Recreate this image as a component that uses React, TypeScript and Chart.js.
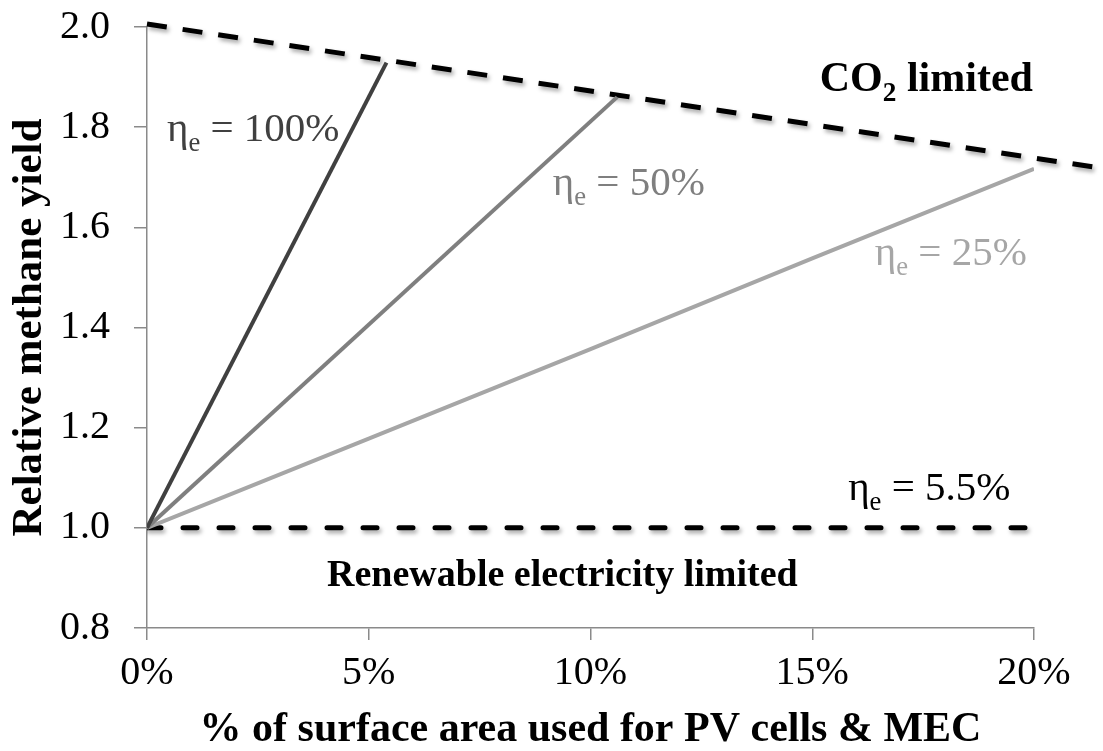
import { useEffect, useRef } from "react";
import { Chart, registerables } from "chart.js";

Chart.register(...registerables);

// ---- data ----
const xTicks = [0, 5, 10, 15, 20];
const yTicks = [0.8, 1.0, 1.2, 1.4, 1.6, 1.8, 2.0];

const eta100X = [0, 5.4];
const eta100Y = [1.0, 1.929];

const eta50X = [0, 10.6];
const eta50Y = [1.0, 1.86];

const eta25X = [0, 5, 10, 15, 20];
const eta25Y = [1.0, 1.178, 1.357, 1.538, 1.717];

const eta55X = [0, 20];
const eta55Y = [1.0, 1.0];

const co2X = [0, 21.6];
const co2Y = [2.006, 1.717];

const FAMILY = "'Liberation Serif', 'Times New Roman', serif";
const AXIS_GREY = "#8a8a8a";

const pts = (xs: number[], ys: number[]) => xs.map((x, i) => ({ x, y: ys[i] }));

type Part = { t: string; sub?: boolean };
type Anno = { parts: Part[]; x: number; y: number; color: string; bold: boolean; size: number };

const annotations: Anno[] = [
  { parts: [{ t: "η" }, { t: "e", sub: true }, { t: " = 100%" }], x: 0.45, y: 1.772, color: "#404040", bold: false, size: 41 },
  { parts: [{ t: "η" }, { t: "e", sub: true }, { t: " = 50%" }], x: 9.15, y: 1.664, color: "#7f7f7f", bold: false, size: 41 },
  { parts: [{ t: "η" }, { t: "e", sub: true }, { t: " = 25%" }], x: 16.41, y: 1.525, color: "#a6a6a6", bold: false, size: 41 },
  { parts: [{ t: "η" }, { t: "e", sub: true }, { t: " = 5.5%" }], x: 15.81, y: 1.056, color: "#000000", bold: false, size: 41 },
  { parts: [{ t: "CO" }, { t: "2", sub: true }, { t: " limited" }], x: 15.17, y: 1.873, color: "#000000", bold: true, size: 42 },
  { parts: [{ t: "Renewable electricity limited" }], x: 4.06, y: 0.884, color: "#000000", bold: true, size: 38 },
];

const labelPlugin = {
  id: "annoLabels",
  afterDraw(chart: any) {
    const { ctx, scales } = chart;
    const xs = scales.x;
    const ys = scales.y;
    annotations.forEach((a) => {
      let px = xs.getPixelForValue(a.x);
      const py = ys.getPixelForValue(a.y);
      ctx.save();
      ctx.fillStyle = a.color;
      ctx.textAlign = "left";
      ctx.textBaseline = "alphabetic";
      a.parts.forEach((p) => {
        const size = p.sub ? a.size * 0.65 : a.size;
        ctx.font = `${a.bold ? "bold " : ""}${size}px ${FAMILY}`;
        ctx.fillText(p.t, px, py + (p.sub ? a.size * 0.24 : 0));
        px += ctx.measureText(p.t).width;
      });
      ctx.restore();
    });
  },
};

const shadowPlugin = {
  id: "dashShadow",
  beforeDatasetDraw(chart: any, args: any) {
    const ds = chart.data.datasets[args.index];
    if (!ds.shadow) return;
    const ctx = chart.ctx;
    ctx.save();
    ctx.shadowColor = "rgba(0,0,0,0.35)";
    ctx.shadowBlur = 4;
    ctx.shadowOffsetX = 2;
    ctx.shadowOffsetY = 3;
  },
  afterDatasetDraw(chart: any, args: any) {
    const ds = chart.data.datasets[args.index];
    if (!ds.shadow) return;
    chart.ctx.restore();
  },
};

export default function App() {
  const ref = useRef<HTMLCanvasElement | null>(null);

  useEffect(() => {
    document.body.style.margin = "0";
    const canvas = ref.current;
    if (!canvas) return;
    const chart = new Chart(canvas, {
      type: "line",
      data: {
        datasets: [
          {
            label: "ηe = 100%",
            data: pts(eta100X, eta100Y),
            borderColor: "#404040",
            borderWidth: 4,
            pointRadius: 0,
            tension: 0,
          },
          {
            label: "ηe = 50%",
            data: pts(eta50X, eta50Y),
            borderColor: "#7f7f7f",
            borderWidth: 4,
            pointRadius: 0,
            tension: 0,
          },
          {
            label: "ηe = 25%",
            data: pts(eta25X, eta25Y),
            borderColor: "#a6a6a6",
            borderWidth: 4,
            pointRadius: 0,
            tension: 0,
          },
          {
            label: "ηe = 5.5%",
            data: pts(eta55X, eta55Y),
            borderColor: "#000000",
            borderWidth: 5,
            borderDash: [14, 22],
            borderCapStyle: "round",
            pointRadius: 0,
            shadow: true,
          } as any,
          {
            label: "CO2 limited",
            data: pts(co2X, co2Y),
            borderColor: "#000000",
            borderWidth: 5,
            borderDash: [20, 16],
            pointRadius: 0,
            clip: false,
            shadow: true,
          } as any,
        ],
      },
      options: {
        responsive: false,
        animation: false,
        layout: { padding: { top: 27, right: 69, left: 0, bottom: 0 } },
        plugins: {
          legend: { display: false },
          tooltip: { enabled: false },
        },
        scales: {
          x: {
            type: "linear",
            min: 0,
            max: 20,
            afterBuildTicks: (s: any) => {
              s.ticks = xTicks.map((v) => ({ value: v }));
            },
            afterFit: (s: any) => {
              s.height = 123;
            },
            ticks: {
              callback: (v: any) => `${v}%`,
              color: "#000000",
              font: { family: FAMILY, size: 40 },
              padding: 9,
              maxRotation: 0,
              autoSkip: false,
            },
            grid: {
              drawOnChartArea: false,
              drawTicks: true,
              tickLength: 12,
              color: AXIS_GREY,
              lineWidth: 1.5,
            },
            border: { display: true, color: AXIS_GREY, width: 1.5 },
            title: {
              display: true,
              text: "% of surface area used for PV cells & MEC",
              color: "#000000",
              font: { family: FAMILY, size: 42, weight: "bold", lineHeight: 1 },
              padding: { top: 0, bottom: 0 },
            },
          },
          y: {
            type: "linear",
            min: 0.8,
            max: 2.0,
            afterBuildTicks: (s: any) => {
              s.ticks = yTicks.map((v) => ({ value: v }));
            },
            afterFit: (s: any) => {
              s.width = 147;
              s.paddingTop = 0;
              s.paddingBottom = 0;
            },
            ticks: {
              callback: (v: any) => Number(v).toFixed(1),
              color: "#000000",
              font: { family: FAMILY, size: 40 },
              padding: 24,
              autoSkip: false,
            },
            grid: {
              drawOnChartArea: false,
              drawTicks: true,
              tickLength: 13,
              color: AXIS_GREY,
              lineWidth: 1.5,
            },
            border: { display: true, color: AXIS_GREY, width: 1.5 },
            title: {
              display: true,
              text: "Relative methane yield",
              color: "#000000",
              font: { family: FAMILY, size: 43, weight: "bold", lineHeight: 1 },
              padding: { top: 8, bottom: 0 },
            },
          },
        },
      },
      plugins: [shadowPlugin, labelPlugin],
    });
    return () => chart.destroy();
  }, []);

  return (
    <div style={{ width: 1103, height: 751 }}>
      <canvas ref={ref} width={1103} height={751} style={{ width: 1103, height: 751, display: "block" }} />
    </div>
  );
}
